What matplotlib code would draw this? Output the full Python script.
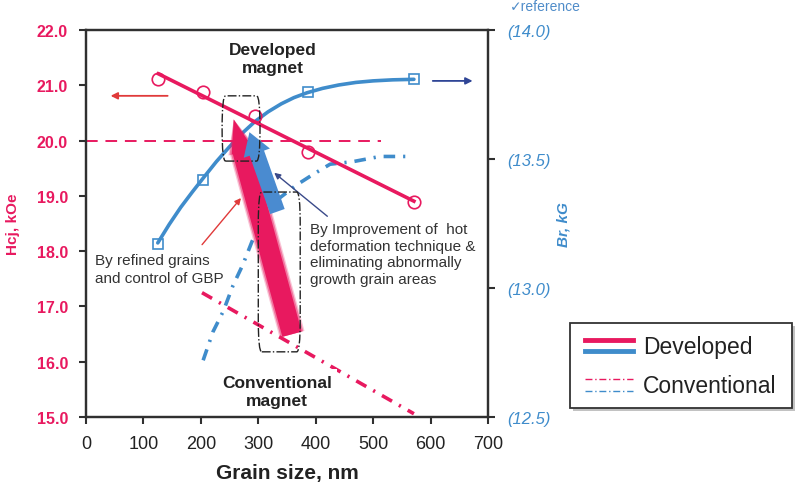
import numpy as np
import matplotlib
matplotlib.use("Agg")
import matplotlib.pyplot as plt
from matplotlib.patches import FancyArrowPatch, FancyBboxPatch, Rectangle
from matplotlib.lines import Line2D

plt.rcParams['font.family'] = ['Liberation Sans', 'DejaVu Sans']

# developed magnet, measured points
dev_hcj_size = [126, 204, 294, 386, 571]
dev_hcj = [21.11, 20.88, 20.44, 19.80, 18.89]
dev_br_size = [126, 204, 386, 571]
dev_br = [13.17, 13.42, 13.76, 13.81]

# developed Br trend curve
dev_br_curve_size = [125, 145, 165, 185, 204, 227, 250, 272, 294, 317, 340,
                     362, 385, 412, 440, 470, 500, 534, 571]
dev_br_curve = [13.175, 13.247, 13.313, 13.372, 13.426, 13.490, 13.548, 13.600, 13.645, 13.683, 13.714,
                13.738, 13.757, 13.774, 13.787, 13.797, 13.803, 13.807, 13.809]

# conventional magnet
conv_hcj_size = [202, 571]
conv_hcj = [17.25, 15.06]
conv_br_size = [204, 221, 239, 256, 273, 289, 320, 367, 395, 425, 465, 512, 568]
conv_br = [12.72, 12.83, 12.91, 13.01, 13.09, 13.18, 13.32, 13.40, 13.44, 13.48, 13.49, 13.51, 13.51]

xticks = [0, 100, 200, 300, 400, 500, 600, 700]
hcj_ticks = [15, 16, 17, 18, 19, 20, 21, 22]
br_ticks = [12.5, 13.0, 13.5, 14.0]

pink = '#e8195f'
blue = '#3f8ccb'
dark = '#303030'

fig = plt.figure(figsize=(8, 4.85), dpi=100)
ax = fig.add_axes([0.1075, 0.138, 0.5025, 0.798])
ax2 = ax.twinx()
ax.set_zorder(ax2.get_zorder() + 1)
ax.patch.set_visible(False)

ax.set_xlim(0, 700)
ax.set_ylim(15, 22)
ax2.set_ylim(12.5, 14.0)

# blue curves (right axis)
ax2.plot(dev_br_curve_size, dev_br_curve, color=blue, lw=2.6,
         solid_capstyle='round', solid_joinstyle='round')
ax2.plot(dev_br_size, dev_br, ls='none', marker='s', ms=7.5, mfc='none', mec=blue, mew=1.2)
ax2.plot(conv_br_size, conv_br, color=blue, lw=2.6, ls=(0, (3.2, 2.2, 0.6, 2.2)))

# pink lines (left axis)
xs = np.array([min(dev_hcj_size), max(dev_hcj_size)])
phcj = np.polyfit(dev_hcj_size, dev_hcj, 1)
ax.plot(xs, np.polyval(phcj, xs), color=pink, lw=2.6, zorder=3)
ax.plot(dev_hcj_size, dev_hcj, ls='none', marker='o', ms=9, mfc='none', mec=pink, mew=1.2, zorder=3)
ax.plot(conv_hcj_size, conv_hcj, color=pink, lw=2.6, ls=(0, (3.2, 2.2, 0.6, 2.2)), zorder=2)
ax.plot([0, 513], [20, 20], color=pink, lw=1.4, ls=(0, (6, 4)), zorder=2)

# direction arrows
ax.annotate('', xy=(38, 20.81), xytext=(147, 20.81),
            arrowprops=dict(arrowstyle='-|>', color='#e03a3a', lw=1.3, mutation_scale=10))
ax.annotate('', xy=(678, 21.08), xytext=(599, 21.08),
            arrowprops=dict(arrowstyle='-|>', color='#2f4596', lw=1.3, mutation_scale=10),
            annotation_clip=False)

# big arrows (pink one with a soft edge)
for w, a in [(1.55, 0.25), (1.4, 0.45)]:
    ax.add_patch(FancyArrowPatch((360, 16.45), (256, 20.43), mutation_scale=12,
                                 arrowstyle='simple,head_width=%g,head_length=2.0,tail_width=%g' % (w + 0.2, w),
                                 color=pink, alpha=a, lw=0, zorder=4))
ax.add_patch(FancyArrowPatch((360, 16.45), (256, 20.43), mutation_scale=12,
                             arrowstyle='simple,head_width=1.35,head_length=2.0,tail_width=1.2',
                             color=pink, lw=0, zorder=4))
ax.add_patch(FancyArrowPatch((335, 18.67), (283, 20.2), mutation_scale=10,
                             arrowstyle='simple,head_width=2.0,head_length=1.6,tail_width=1.1',
                             color='#4a8bd0', lw=0, zorder=5))

# thin pointer arrows
ax.annotate('', xy=(273, 19.0), xytext=(199, 18.08),
            arrowprops=dict(arrowstyle='-|>', color='#e03a3a', lw=1.0, mutation_scale=9), zorder=6)
ax.annotate('', xy=(324, 19.45), xytext=(424, 18.6),
            arrowprops=dict(arrowstyle='-|>', color='#3a4a8a', lw=1.0, mutation_scale=9), zorder=6)

# dash-dot boxes
for (x0, x1, y0, y1) in [(237, 303, 19.63, 20.81), (300, 373, 16.18, 19.07)]:
    ax.add_patch(FancyBboxPatch((x0, y0), x1 - x0, y1 - y0,
                                boxstyle='round,pad=0,rounding_size=6', mutation_aspect=0.0963,
                                fill=False, ec='#222222', lw=1.0, ls='-.', zorder=7))

# texts
ax.text(326, 21.49, 'Developed\nmagnet', ha='center', va='center', fontsize=12.5,
        fontweight='bold', color='#222222', linespacing=1.25, zorder=8)
ax.text(333, 15.47, 'Conventional\nmagnet', ha='center', va='center', fontsize=12.5,
        fontweight='bold', color='#222222', linespacing=1.25, zorder=8,
        bbox=dict(boxstyle='square,pad=0.3', fc='white', ec='none'))
ax.text(16, 17.68, 'By refined grains\nand control of GBP', ha='left', va='center',
        fontsize=11, color='#333333', linespacing=1.3, zorder=8)
ax.text(390, 17.95, 'By Improvement of  hot\ndeformation technique &\neliminating abnormally\ngrowth grain areas',
        ha='left', va='center', fontsize=11, color='#333333', linespacing=1.22, zorder=8)

# axes styling
ax.set_xticks(xticks)
ax.set_xticklabels([str(v) for v in xticks], fontsize=13, color='#222222')
ax.set_yticks(hcj_ticks)
ax.set_yticklabels(['%.1f' % v for v in hcj_ticks], fontsize=11.5, fontweight='bold', color=pink)
ax2.set_yticks(br_ticks)
ax2.set_yticklabels(['(%.1f)' % v for v in br_ticks], fontsize=12, fontstyle='italic', color=blue)
ax.tick_params(axis='x', direction='out', length=5, width=1.5, pad=8, colors=dark, labelcolor='#222222')
ax.tick_params(axis='y', direction='out', length=5, width=1.5, pad=8, colors=dark, labelcolor=pink)
ax2.tick_params(axis='y', direction='out', length=5, width=1.5, pad=9, colors=dark, labelcolor=blue)
for a in (ax, ax2):
    for s in a.spines.values():
        s.set_linewidth(1.6)
        s.set_color(dark)

ax.set_xlabel('Grain size, nm', fontsize=15, fontweight='bold', color='#222222', labelpad=8)
ax.set_ylabel('Hcj, kOe', fontsize=11, fontweight='bold', color=pink, labelpad=12)
ax2.set_ylabel('Br, kG', fontsize=11, fontweight='bold', fontstyle='italic', color=blue, labelpad=4)

fig.text(0.637, 0.986, '\u2713reference', ha='left', va='center', fontsize=10, color='#4f8cc9')

# legend drawn by hand (two lines per entry)
fig.patches.append(Rectangle((0.7163, 0.1505), 0.2775, 0.1753, transform=fig.transFigure,
                             fc='#9a9a9a', ec='none', alpha=0.6, zorder=1))
fig.patches.append(Rectangle((0.7125, 0.1567), 0.2775, 0.1753, transform=fig.transFigure,
                             fc='white', ec='#333333', lw=1.3, zorder=2))
for y, c, lw, ls in [(0.2969, pink, 3.5, '-'), (0.2742, blue, 3.5, '-'),
                     (0.2165, pink, 1.0, (0, (5, 2, 1, 2))), (0.1918, blue, 1.0, (0, (5, 2, 1, 2)))]:
    fig.lines.append(Line2D([0.731, 0.791], [y, y], transform=fig.transFigure,
                            color=c, lw=lw, ls=ls, zorder=3))
fig.text(0.804, 0.2845, 'Developed', ha='left', va='center', fontsize=16.5, color='#222222', zorder=4)
fig.text(0.804, 0.204, 'Conventional', ha='left', va='center', fontsize=16.5, color='#222222', zorder=4)

fig.savefig('out.png', dpi=100)
